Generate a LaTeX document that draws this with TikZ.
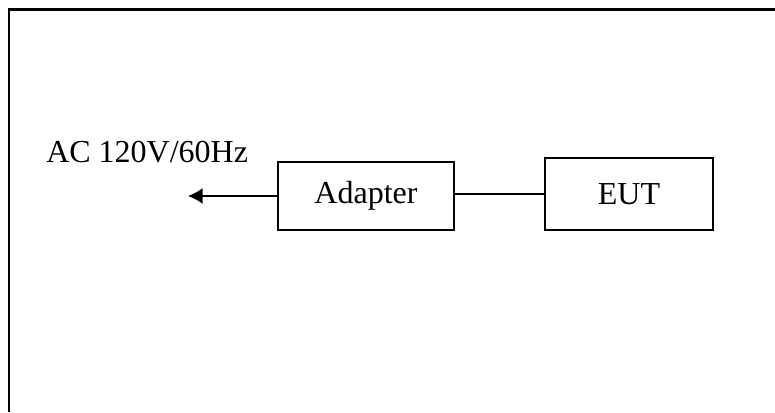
\documentclass[tikz,border=0pt]{standalone}
\usepackage{fontspec}
\setmainfont{Liberation Serif}
\usetikzlibrary{arrows.meta}
\tikzset{
  unitbox/.style={draw, line width=1.1pt, inner sep=0pt, font=\fontsize{24}{28}\selectfont},
  cable/.style={line width=1.2pt}
}
\begin{document}
\begin{tikzpicture}[x=0.75pt, y=-0.75pt, line join=miter, >={Latex[length=11pt,width=12pt]}]
	\useasboundingbox (0,0) rectangle (775,412);
	\draw[line width=1.7pt] (9,412) -- (9,9.5) -- (775,9.5);
	\node[unitbox, minimum width=132pt, minimum height=51pt] (adapter) at (366,196) {Adapter};
	\node[unitbox, minimum width=126pt, minimum height=54pt] (eut) at (629,194) {EUT};
	\node[anchor=base west, inner sep=0pt, font=\fontsize{24}{28}\selectfont] (mains) at (46,162) {AC 120V/60Hz};
	\coordinate (plug) at (188,196);
	\draw[cable] (eut.west) -- (eut.west -| adapter.east);
	\draw[cable, ->] (adapter.west) -- (plug);
\end{tikzpicture}
\end{document}
